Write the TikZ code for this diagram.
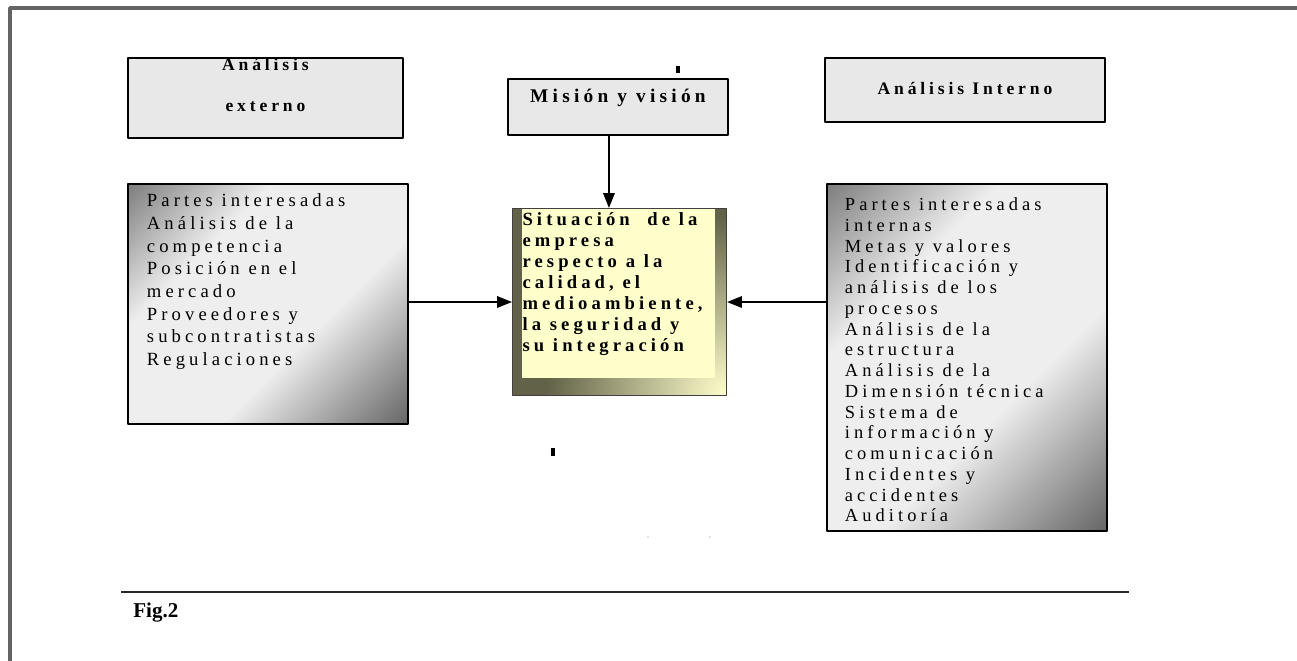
\documentclass[tikz,border=0pt]{standalone}
\usepackage{fontspec}
\setmainfont{Liberation Serif}
\newfontfamily\wide[LetterSpace=22]{Liberation Serif}
\usetikzlibrary{arrows.meta,positioning}
\definecolor{headgray}{RGB}{232,232,232}
\definecolor{grdark}{RGB}{88,88,88}
\definecolor{grlight}{RGB}{238,238,238}
\definecolor{notedark}{RGB}{98,98,72}
\definecolor{notelight}{RGB}{255,255,204}
\definecolor{framegray}{RGB}{100,100,100}
\pgfdeclarehorizontalshading{grayband}{100bp}{color(0bp)=(grdark); color(8bp)=(grdark); color(34bp)=(grlight); color(60bp)=(grlight); color(88bp)=(grdark); color(100bp)=(grdark)}
\tikzset{
	head/.style={draw, line width=1.1pt, fill=headgray, inner sep=0pt, anchor=north west, font=\wide\bfseries\fontsize{10}{12}\selectfont},
	lista/.style={draw, line width=1.1pt, shade, shading=grayband, shading angle=-45, inner sep=0pt, anchor=north west},
	nota/.style={draw=black!75, line width=0.6pt, inner sep=0pt, anchor=north west, font=\wide\bfseries\fontsize{10.6}{12}\selectfont,
		path picture={
			\fill[notedark] (path picture bounding box.south west) rectangle (path picture bounding box.north east);
			\shade[inner color=notelight, outer color=notedark] (path picture bounding box.south east) circle (3.6cm);
			\fill[notelight] ([xshift=0.18cm]path picture bounding box.north west) rectangle ([xshift=-0.22cm,yshift=0.34cm]path picture bounding box.south east);
		}},
	flecha/.style={->, line width=1.1pt}
}
\begin{document}
\begin{tikzpicture}[line join=round, >={Triangle[length=8.5pt,width=6.5pt]}, x=0.02cm, y=-0.02cm]
	\useasboundingbox (0,0) rectangle (1297,661);
	\draw[framegray, line width=2pt] (10,661) -- (10,8) -- (1297,8); % marco
	% cabeceras
	\node[head] (externo) at (127,57) {\parbox[c][1.6cm][t]{5.5cm}{\centering Análisis\\[0.4cm] externo}};
	\node[head, font=\wide\bfseries\fontsize{11}{13}\selectfont] (mision) at (507,78) {\parbox[c][1.12cm][t]{4.4cm}{\centering\vspace*{0.2cm}Misión y visión}};
	\node[head] (interno) at (824,57) {\parbox[c][1.28cm][t]{5.6cm}{\centering\vspace*{0.48cm}Análisis Interno}};
	% listas
	\node[lista, font=\wide\fontsize{10.6}{12.9}\selectfont] (extlista) at (127,183) {\parbox[c][4.8cm][t]{5.6cm}{\leftskip=0.38cm\vspace*{0.2cm}Partes interesadas\\ Análisis de la\\ competencia\\ Posición en el\\ mercado\\ Proveedores y\\ subcontratistas\\ Regulaciones}};
	\node[lista, font=\wide\fontsize{10.5}{11.8}\selectfont] (intlista) at (826,183) {\parbox[c][6.94cm][t]{5.6cm}{\leftskip=0.36cm\vspace*{0.28cm}Partes interesadas\\ internas\\ Metas y valores\\ Identificación y\\ análisis de los\\ procesos\\ Análisis de la\\ estructura\\ Análisis de la\\ Dimensión técnica\\ Sistema de\\ información y\\ comunicación\\ Incidentes y\\ accidentes\\ Auditoría}};
	\node[nota] (situacion) at (512,208) {\parbox[c][3.74cm][t]{4.28cm}{\leftskip=0.2cm\vspace*{0.08cm}Situación\ \ de la\\ empresa\\ respecto a la\\ calidad, el\\ medioambiente,\\ la seguridad y\\ su integración}};
	% flechas
	\draw[flecha] ([xshift=-0.18cm]mision.south) -- ([xshift=-0.18cm]mision.south |- situacion.north);
	\draw[flecha] (situacion.west -| extlista.east) -- (situacion.west);
	\draw[flecha] (situacion.east -| intlista.west) -- (situacion.east);
	% marcas sueltas
	\draw[line width=2.2pt] (678,66) -- (678,73);
	\draw[line width=2.2pt] (553,448) -- (553,456);
	\fill[gray] (648,537) circle (0.4pt) (710,537) circle (0.4pt);
	% pie
	\draw[line width=0.9pt, black!85] (121,592) -- (1129,592);
	\node[font=\bfseries\fontsize{12}{14}\selectfont, anchor=north west, inner sep=0pt] (fig) at (133,603) {Fig.2};
\end{tikzpicture}
\end{document}
